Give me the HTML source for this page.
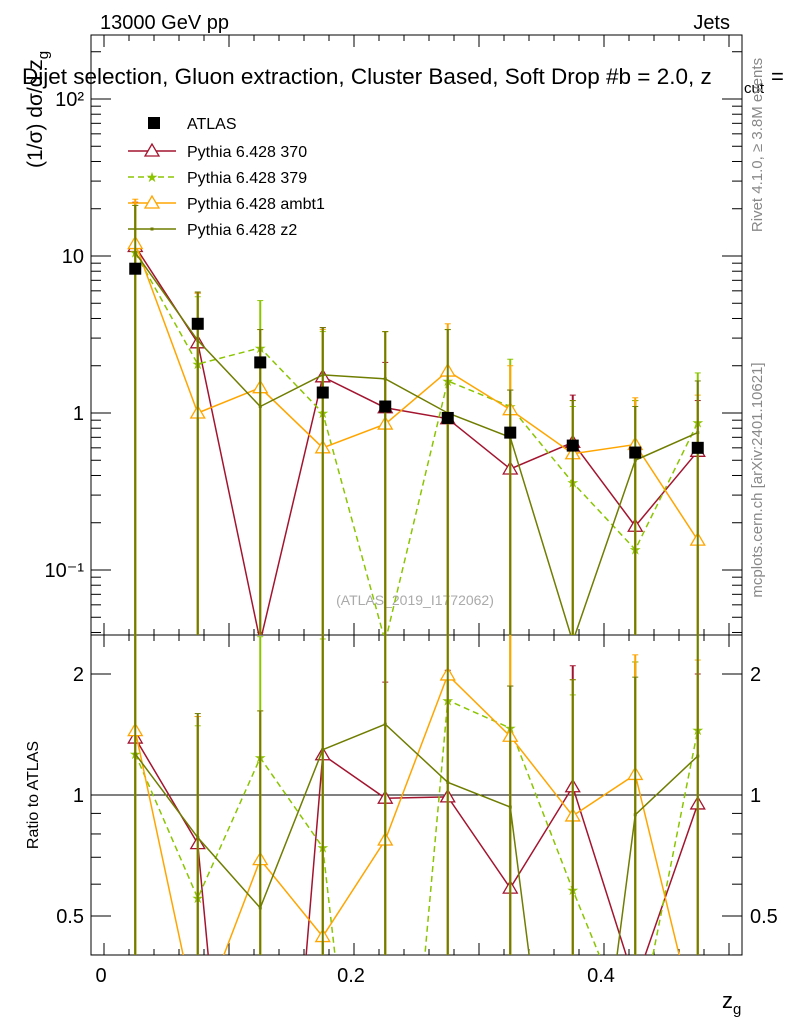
<!DOCTYPE html>
<html><head><meta charset="utf-8"><style>
html,body{margin:0;background:#fff;overflow:hidden;width:786px;height:1024px;}
svg{font-family:"Liberation Sans",sans-serif;display:block;}
</style></head><body>
<svg id="c" width="786" height="1024" xmlns="http://www.w3.org/2000/svg">
<g id="g"></g>
</svg>
<script>
const xCenters=[0.025,0.075,0.125,0.175,0.225,0.275,0.325,0.375,0.425,0.475];
const atlas=[8.3,3.7,2.1,1.35,1.1,0.93,0.75,0.62,0.56,0.6];
const s370=[11.5,2.8,0.035,1.7,1.08,0.92,0.44,0.65,0.19,0.57];
const s379=[10.5,2.05,2.6,1.0,0.035,1.6,1.1,0.36,0.135,0.87];
const sambt1=[12,1.0,1.45,0.6,0.85,1.85,1.05,0.55,0.63,0.155];
const sz2=[10.5,2.9,1.1,1.75,1.65,1.0,0.7,0.035,0.5,0.75];
const up370=[22,5.8,0.04,3.5,2.1,1.9,1.4,1.3,1.2,1.2];
const up379=[21,5.5,5.2,3.3,3.3,3.4,2.2,1.1,1.2,1.8];
const upambt1=[23,5.8,3.4,3.4,3.3,3.7,2.0,1.2,1.25,1.3];
const upz2=[21,5.9,3.4,3.5,3.3,3.4,1.4,1.2,1.1,1.6];
const xTicks=[0,0.2,0.4];
const yTickLabels=["10\u207B\u00B9","1","10","10\u00B2"];
const rTicks=[0.5,1,2];

const NS="http://www.w3.org/2000/svg";
const g=document.getElementById('g');
const L=91,R=742,T1=35,B1=635,B2=955;
const xs=v=>104+v*1250;
const ys=v=>413-Math.log10(v)*157;
const rs=v=>795-Math.log2(v)*121;
function el(t,a,p){const e=document.createElementNS(NS,t);for(const k in a)e.setAttribute(k,a[k]);(p||g).appendChild(e);return e;}
function txt(x,y,s,a){const e=el('text',Object.assign({x:x,y:y},a||{}));e.textContent=s;return e;}

const defs=el('defs',{});
const c1=el('clipPath',{id:'c1'},defs);el('rect',{x:L,y:T1,width:R-L,height:B1-T1},c1);
const c2=el('clipPath',{id:'c2'},defs);el('rect',{x:L,y:B1,width:R-L,height:B2-B1},c2);

const f1=el('rect',{x:L,y:T1,width:R-L,height:B1-T1,fill:'none',stroke:'#000','stroke-width':1});


const f2=el('rect',{x:L,y:B1,width:R-L,height:B2-B1,fill:'none',stroke:'#000','stroke-width':1});



for(let k=0;k<=25;k++){const v=k*0.02;const X=xs(v);if(X>R)continue;const big=(k%5==0);const l=big?12:6;
 [T1,B1].forEach(y0=>{el('line',{x1:X,x2:X,y1:y0,y2:y0+l,stroke:'#000'});});
 [B1,B2].forEach(y0=>{el('line',{x1:X,x2:X,y1:y0,y2:y0-l,stroke:'#000'});});}
xTicks.forEach(v=>{const t=txt(xs(v)-3,982,String(v),{'font-size':20,'text-anchor':'middle'});
 });
const xt=txt(722,1008,'z',{'font-size':22});

const xs2=document.createElementNS(NS,'tspan');xs2.setAttribute('font-size',15);xs2.setAttribute('dy',6);xs2.textContent='g';xt.appendChild(xs2);

for(let d=-2;d<=2;d++){for(let m=1;m<10;m++){const v=m*Math.pow(10,d);const Y=ys(v);if(Y<T1||Y>B1)continue;const l=m==1?20:10;
 el('line',{x1:L,x2:L+l,y1:Y,y2:Y,stroke:'#000'});el('line',{x1:R,x2:R-l,y1:Y,y2:Y,stroke:'#000'});}}
[-1,0,1,2].forEach((d,i)=>{const t=txt(84,ys(Math.pow(10,d))+7,yTickLabels[i],{'font-size':20,'text-anchor':'end'});
 });
[0.4,0.5,0.6,0.7,0.8,0.9,1,2].forEach(v=>{const Y=rs(v);const l=(v==0.5||v==1||v==2)?20:10;
 el('line',{x1:L,x2:L+l,y1:Y,y2:Y,stroke:'#000'});el('line',{x1:R,x2:R-l,y1:Y,y2:Y,stroke:'#000'});});
rTicks.forEach(v=>{const t=txt(84,rs(v)+7,String(v),{'font-size':20,'text-anchor':'end'});
 
 const t2=txt(750,rs(v)+7,String(v),{'font-size':20});
 });
el('line',{x1:L,x2:R,y1:rs(1),y2:rs(1),stroke:'#000'});

const tt=[[100,29,'13000 GeV pp',{'font-size':20},'energy-label'],[730,29,'Jets',{'font-size':20,'text-anchor':'end'},'process-label'],
[22,84,'Dijet selection, Gluon extraction, Cluster Based, Soft Drop #b = 2.0, z',{'font-size':22.5},'plot-title'],
[415,605,'(ATLAS_2019_I1772062)',{'font-size':14,fill:'#aaa','text-anchor':'middle'},'analysis-id']];
tt.forEach(a=>{const t=txt(a[0],a[1],a[2],a[3]);});
const cu=txt(744,93,'cut',{'font-size':15});
const eq=txt(771,84,'=',{'font-size':22});
const yl=txt(0,0,'(1/σ) dσ/d z',{'font-size':21,transform:'translate(42,168) rotate(-90)'});

const ys_=document.createElementNS(NS,'tspan');ys_.setAttribute('font-size',15);ys_.setAttribute('dy',6);ys_.textContent='g';yl.appendChild(ys_);
const rl=txt(0,0,'Ratio to ATLAS',{'font-size':16,'text-anchor':'middle',transform:'translate(38,795) rotate(-90)'});

const rv=txt(0,0,'Rivet 4.1.0, ≥ 3.8M events',{'font-size':15,fill:'#888','text-anchor':'middle',transform:'translate(762,145) rotate(-90)'});

const mp=txt(0,0,'mcplots.cern.ch [arXiv:2401.10621]',{'font-size':15,fill:'#888','text-anchor':'middle',transform:'translate(762,480) rotate(-90)'});


const series=[
 {n:'370',v:s370,u:up370,c:'#a3142f',d:'',m:'tri'},
 {n:'379',v:s379,u:up379,c:'#8ac500',d:'6,4',m:'star'},
 {n:'ambt1',v:sambt1,u:upambt1,c:'#ffa500',d:'',m:'tri'},
 {n:'z2',v:sz2,u:upz2,c:'#6f7d00',d:'',m:'dot'}];
function marker(p,m,x,y,c){
 if(m=='tri')el('polygon',{points:`${x},${y-7} ${x-7},${y+5} ${x+7},${y+5}`,fill:'#fff',stroke:c,'stroke-width':1.3},p);
 else if(m=='star'){el('text',{x:x,y:y+5,'font-size':14,fill:c,'text-anchor':'middle'},p).textContent='★';}
 else el('rect',{x:x-1.5,y:y-1.5,width:3,height:3,fill:c},p);}
series.forEach(s=>{
 const p1=el('g',{'clip-path':'url(#c1)'});
 const p2=el('g',{'clip-path':'url(#c2)'});
 xCenters.forEach((x,i)=>{const X=xs(x);
  el('line',{x1:X,x2:X,y1:B1+5,y2:ys(s.u[i]),stroke:s.c,'stroke-width':2},p1);
  el('line',{x1:X-3,x2:X+3,y1:ys(s.u[i]),y2:ys(s.u[i]),stroke:s.c},p1);
  el('line',{x1:X,x2:X,y1:B2+5,y2:rs(s.u[i]/atlas[i]),stroke:s.c,'stroke-width':2},p2);
  el('line',{x1:X-3,x2:X+3,y1:rs(s.u[i]/atlas[i]),y2:rs(s.u[i]/atlas[i]),stroke:s.c},p2);});
 el('polyline',{points:xCenters.map((x,i)=>xs(x)+','+ys(s.v[i])).join(' '),fill:'none',stroke:s.c,'stroke-width':1.5,'stroke-dasharray':s.d},p1);
 el('polyline',{points:xCenters.map((x,i)=>xs(x)+','+rs(s.v[i]/atlas[i])).join(' '),fill:'none',stroke:s.c,'stroke-width':1.5,'stroke-dasharray':s.d},p2);
 xCenters.forEach((x,i)=>{marker(p1,s.m,xs(x),ys(s.v[i]),s.c);marker(p2,s.m,xs(x),rs(s.v[i]/atlas[i]),s.c);});
});
const pa=el('g',{});
xCenters.forEach((x,i)=>{const r=el('rect',{x:xs(x)-6,y:ys(atlas[i])-6,width:12,height:12,fill:'#000'},pa);
 });

const lg=el('g',{});
el('rect',{x:148,y:117,width:12,height:12,fill:'#000'},lg);
const lt=[['ATLAS',123],['Pythia 6.428 370',151],['Pythia 6.428 379',177],['Pythia 6.428 ambt1',203],['Pythia 6.428 z2',229]];
lt.forEach((a,i)=>{const t=el('text',{x:187,y:a[1]+6,'font-size':16},lg);t.textContent=a[0];
 
 if(i>0){const s=series[i-1];el('line',{x1:128,x2:176,y1:a[1],y2:a[1],stroke:s.c,'stroke-width':1.5,'stroke-dasharray':s.d},lg);marker(lg,s.m,152,a[1],s.c);}});
</script>
</body></html>
